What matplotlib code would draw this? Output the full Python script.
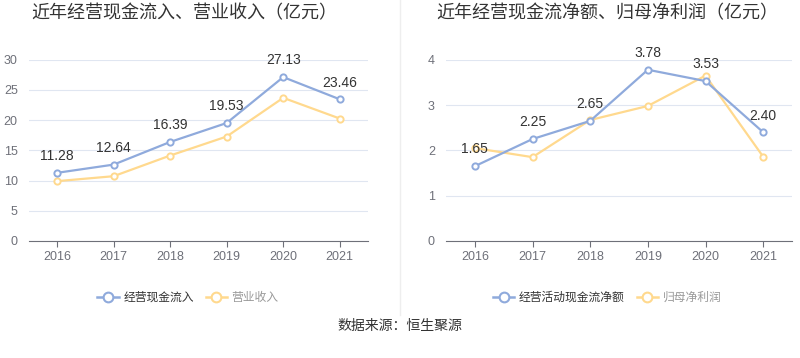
import matplotlib.pyplot as plt
from matplotlib.lines import Line2D

plt.rcParams['font.family'] = ['Noto Sans CJK SC', 'DejaVu Sans']

years = ['2016', '2017', '2018', '2019', '2020', '2021']
cash_in = [11.28, 12.64, 16.39, 19.53, 27.13, 23.46]
revenue = [9.90, 10.72, 14.14, 17.29, 23.70, 20.27]
net_cash = [1.65, 2.25, 2.65, 3.78, 3.53, 2.40]
net_profit = [2.05, 1.85, 2.67, 2.98, 3.65, 1.86]

BLUE = '#8faadc'
ORANGE = '#ffd98e'
LATIN = ['Liberation Sans', 'DejaVu Sans']


def draw(ax, main, other, ymax, step):
    x = range(len(years))
    ax.plot(x, other, color=ORANGE, lw=1.6, marker='o', ms=4.5, mfc='white',
            mec=ORANGE, mew=1.4, zorder=3)
    ax.plot(x, main, color=BLUE, lw=1.6, marker='o', ms=4.5, mfc='white',
            mec=BLUE, mew=1.4, zorder=4)
    for i, v in enumerate(main):
        ax.annotate(f'{v:.2f}', (i, v), xytext=(0, 7), textcoords='offset points',
                    ha='center', va='bottom', fontsize=10, color='#333333',
                    family=LATIN, zorder=5)
    ax.set_xlim(-0.5, len(years) - 0.5)
    ax.set_ylim(0, ymax)
    ax.set_yticks([i * step for i in range(int(ymax / step) + 1)])
    ax.set_xticks(list(x))
    ax.set_xticklabels(years)
    ax.grid(axis='y', color='#e0e6f1', lw=0.8)
    ax.set_axisbelow(True)
    for s in ['top', 'right', 'left']:
        ax.spines[s].set_visible(False)
    ax.spines['bottom'].set_color('#6e7079')
    ax.tick_params(axis='y', length=0, labelsize=9, labelcolor='#6e7079', pad=8)
    ax.tick_params(axis='x', length=4, color='#6e7079', labelsize=9,
                   labelcolor='#6e7079', pad=3)
    for lab in ax.get_xticklabels() + ax.get_yticklabels():
        lab.set_family(LATIN)


fig = plt.figure(figsize=(8, 3.58), dpi=100)
ax1 = fig.add_axes([0.036, 0.327, 0.424, 0.506])
ax2 = fig.add_axes([0.5575, 0.327, 0.4325, 0.506])

draw(ax1, cash_in, revenue, 30, 5)
draw(ax2, net_cash, net_profit, 4, 1)

fig.text(0.23, 0.963, '近年经营现金流入、营业收入（亿元）', ha='center', va='center',
         fontsize=13, color='#333333')
fig.text(0.759, 0.963, '近年经营现金流净额、归母净利润（亿元）', ha='center', va='center',
         fontsize=13, color='#333333')

fig.add_artist(Line2D([0.5, 0.5], [0.12, 1.0], transform=fig.transFigure,
                      color='#eeeeee', lw=1))


def legend(labels, cx):
    handles = [Line2D([], [], color=BLUE, lw=1.8, marker='o', ms=7, mfc='white', mec=BLUE, mew=1.5),
               Line2D([], [], color=ORANGE, lw=1.8, marker='o', ms=7, mfc='white', mec=ORANGE, mew=1.5)]
    leg = fig.legend(handles, labels, loc='center', bbox_to_anchor=(cx, 0.17), ncol=2,
                     frameon=False, fontsize=8.5, handlelength=1.8, handletextpad=0.4,
                     columnspacing=1.0)
    leg.get_texts()[0].set_color('#333333')
    leg.get_texts()[1].set_color('#999999')


legend(['经营现金流入', '营业收入'], 0.235)
legend(['经营活动现金流净额', '归母净利润'], 0.759)

fig.text(0.5, 0.09, '数据来源：恒生聚源', ha='center', va='center', fontsize=10,
         color='#333333')

fig.savefig('out.png', dpi=100)
